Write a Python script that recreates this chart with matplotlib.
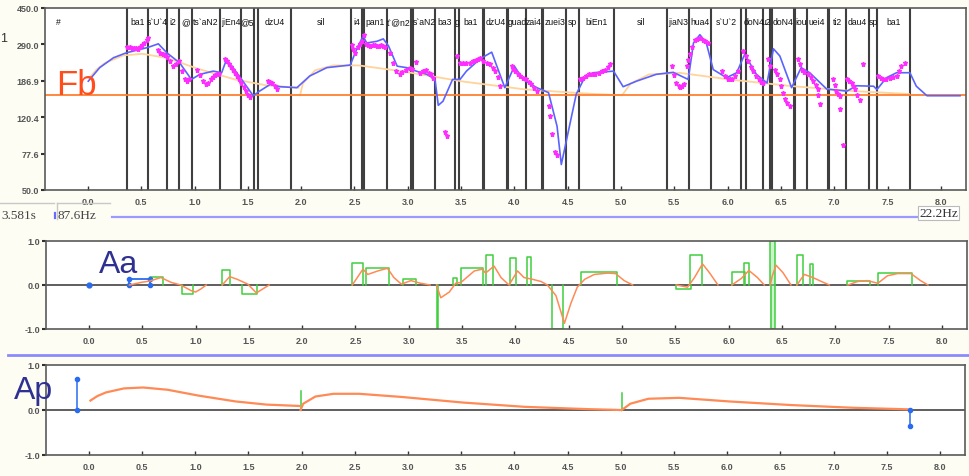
import numpy as np
import matplotlib
matplotlib.use('Agg')
import matplotlib.pyplot as plt
from matplotlib.lines import Line2D
from matplotlib.ticker import NullLocator

plt.rcParams['font.family'] = ['Liberation Sans', 'DejaVu Sans']

# ---- data ----
seg_labels = ["#", "ba1", "s`U`4", "i2", "@", "ts`aN2", "jiEn4", "@5", "dzU4", "sil",
              "i4", "pan1", "t`@n2", "s`aN2", "ba3", "g", "ba1", "dzU4", "guad", "zai4",
              "zuei3", "sp", "biEn1", "sil", "jiaN3", "hua4", "s`U`2", "doN4", "u2", "doN4",
              "iou", "uei4", "ti2", "dau4", "sp", "ba1"]
seg_start = [-0.93, 0.366, 0.566, 0.744, 0.854, 0.973, 1.238, 1.435, 1.598, 1.904,
             2.467, 2.592, 2.802, 3.052, 3.258, 3.44, 3.483, 3.717, 3.943, 4.106,
             4.271, 4.484, 4.609, 4.937, 5.434, 5.638, 5.841, 6.170, 6.335, 6.419,
             6.635, 6.742, 6.951, 7.108, 7.329, 7.398]
seg_end = [0.366, 0.566, 0.744, 0.854, 0.973, 1.238, 1.435, 1.557, 1.904, 2.467,
           2.573, 2.802, 3.027, 3.258, 3.44, 3.483, 3.703, 3.928, 4.106, 4.256,
           4.484, 4.609, 4.937, 5.434, 5.638, 5.841, 6.126, 6.335, 6.398, 6.623,
           6.742, 6.938, 7.108, 7.329, 7.398, 7.711]

fb_hz = 157.0

# model F0 contour (blue)
f0_t = [0.003, 0.11, 0.24, 0.36, 0.49, 0.566, 0.66, 0.74, 0.86, 0.97,
        1.05, 1.175, 1.254, 1.30, 1.36, 1.43, 1.55, 1.61, 1.71, 1.80,
        1.96, 2.08, 2.24, 2.46, 2.52, 2.58, 2.615, 2.71, 2.77, 2.82,
        2.90, 2.99, 3.08, 3.18, 3.255, 3.286, 3.33, 3.42, 3.49, 3.55,
        3.68, 3.787, 3.91, 4.00, 4.08, 4.21, 4.32, 4.40, 4.44, 4.49,
        4.58, 4.65, 4.74, 4.93, 5.02, 5.145, 5.33, 5.49, 5.63, 5.68,
        5.74, 5.80, 5.865, 5.99, 6.085, 6.16, 6.27, 6.37, 6.43, 6.49,
        6.60, 6.69, 6.77, 6.93, 7.12, 7.21, 7.37, 7.40, 7.49, 7.585,
        7.71, 7.77, 7.87, 8.18]
f0_hz = [186, 219, 247, 262, 273, 280, 292, 262, 232, 190,
         202, 210, 206, 242, 219, 194, 156, 165, 179, 174,
         172, 198, 219, 226, 273, 320, 295, 301, 310, 284,
         223, 219, 210, 202, 190, 139, 146, 190, 190, 210,
         244, 264, 172, 223, 190, 172, 162, 108, 68, 92,
         159, 190, 206, 210, 174, 186, 202, 207, 190, 295,
         326, 295, 214, 194, 206, 257, 202, 182, 275, 252,
         172, 219, 206, 169, 165, 176, 175, 168, 194, 206,
         206, 175, 156, 156]

# measured F0 points (magenta)
obs_t = [0.37, 0.39, 0.41, 0.43, 0.45, 0.47, 0.49, 0.51, 0.53, 0.55, 0.56,
         0.66, 0.68, 0.70, 0.72, 0.74, 0.77, 0.80, 0.83, 0.85, 0.88, 0.91, 0.93, 0.95,
         1.02, 1.05, 1.08, 1.11, 1.13, 1.15, 1.17, 1.19, 1.21, 1.23,
         1.285, 1.30, 1.32, 1.34, 1.36, 1.38, 1.40, 1.42, 1.44, 1.46, 1.48, 1.50, 1.52,
         1.69, 1.71, 1.73, 1.75, 1.77,
         2.474, 2.49, 2.505, 2.53, 2.55, 2.567, 2.59,
         2.61, 2.63, 2.65, 2.67, 2.69, 2.71, 2.73, 2.75, 2.77, 2.79,
         2.83, 2.86, 2.89, 2.925, 2.95, 2.98, 3.02, 3.04,
         3.077, 3.115, 3.14, 3.17, 3.20, 3.22, 3.24,
         3.35, 3.37,
         3.46, 3.49, 3.52, 3.55, 3.58, 3.61, 3.64, 3.66, 3.68,
         3.71, 3.74, 3.77, 3.80, 3.82, 3.845, 3.865,
         3.975, 3.99, 4.005, 4.03, 4.05, 4.08, 4.11, 4.135, 4.16, 4.185, 4.21,
         4.32, 4.335, 4.35, 4.38, 4.395,
         4.615, 4.64, 4.67, 4.70, 4.73, 4.76, 4.79, 4.82, 4.85, 4.88, 4.90,
         5.475, 5.50, 5.52, 5.54, 5.555, 5.57, 5.59,
         5.615, 5.63, 5.645, 5.665, 5.69, 5.715, 5.74, 5.765, 5.79, 5.82,
         5.945, 5.975, 6.0, 6.02, 6.04, 6.07, 6.10,
         6.147, 6.17, 6.19, 6.215, 6.24, 6.265, 6.29, 6.31, 6.335,
         6.38, 6.395, 6.44, 6.465, 6.49, 6.505, 6.52, 6.54, 6.555, 6.585,
         6.663, 6.68, 6.695, 6.72, 6.757, 6.78, 6.80, 6.825, 6.85, 6.85, 6.865,
         6.99, 7.005, 7.02, 7.04, 7.055, 7.055, 7.085,
         7.117, 7.14, 7.165, 7.18, 7.195, 7.215, 7.24, 7.27,
         7.41, 7.44, 7.46, 7.49, 7.52, 7.55, 7.585, 7.61, 7.63, 7.66]
obs_hz = [280, 282, 279, 276, 278, 274, 281, 288, 296, 305, 312,
          270, 262, 258, 255, 250, 236, 223, 230, 237, 210, 190, 186, 192,
          214, 200, 186, 179, 183, 190, 196, 201, 202, 204,
          242, 236, 228, 222, 214, 206, 198, 190, 182, 174, 165, 158, 154,
          186, 184, 181, 175, 169,
          289, 275, 262, 280, 290, 301, 326,
          292, 287, 286, 288, 287, 285, 286, 288, 284, 280,
          262, 232, 210, 202, 208, 214, 219, 216,
          234, 206, 210, 214, 206, 202, 194,
          101, 96,
          252, 232, 232, 233, 232, 236, 240, 244, 246,
          237, 233, 228, 218, 210, 196, 176,
          223, 216, 210, 204, 198, 193, 190, 184, 179, 172, 165,
          138, 122, 98, 79, 76,
          190, 194, 198, 202, 202, 203, 206, 210, 214, 222, 228,
          223, 200, 182, 176, 174, 175, 179,
          223, 240, 257, 280, 307, 311, 313, 306, 301, 295,
          210, 198, 192, 190, 191, 198, 210,
          268, 252, 237, 222, 210, 198, 190, 185, 182,
          242, 223, 214, 204, 190, 175, 162, 150, 143, 138,
          242, 228, 214, 208, 202, 195, 186, 178, 169, 157, 142,
          190, 178, 165, 160, 156, 133, 86,
          190, 186, 182, 176, 169, 158, 149, 228,
          198, 193, 190, 191, 194, 196, 198, 210, 223, 232]

# phrase component (Ap curve), pieces split by nan
ap_t = [0.015, 0.08, 0.16, 0.33, 0.51, 0.74, 1.03, 1.38, 1.67, 1.975, np.nan,
        1.99, 2.015, 2.13, 2.30, 2.54, 2.94, 3.52, 4.10, 4.68, 5.00, np.nan,
        5.01, 5.09, 5.26, 5.55, 6.02, 6.60, 7.18, 7.70]
ap_v = [0.21, 0.31, 0.39, 0.48, 0.50, 0.45, 0.32, 0.19, 0.12, 0.09, np.nan,
        0.0, 0.14, 0.30, 0.36, 0.36, 0.29, 0.165, 0.07, 0.02, 0.0, np.nan,
        0.0, 0.14, 0.25, 0.27, 0.19, 0.11, 0.05, 0.015]
phrase_green_t = [1.99, 5.01]
phrase_green_a = [0.43, 0.37]
phrase_blue_t = [-0.11, 7.72]
phrase_blue_a = [0.70, -0.36]

# accent component (Aa curve), pieces split by nan
aa_t = [0.38, 0.49, 0.57, 0.675, 0.77, 0.86, 0.96, 1.0, 1.05, 1.10, np.nan,
        1.25, 1.32, 1.39, 1.49, 1.57, 1.63, 1.69, np.nan,
        2.47, 2.57, 2.615, 2.71, 2.80, 2.86, 2.93, 3.02, 3.11, 3.20, np.nan,
        3.26, 3.30, 3.38, 3.44, 3.49, 3.615, 3.69, 3.72, 3.80, 3.865, 3.94, 4.02,
        4.08, 4.16, 4.24, 4.30, 4.38, 4.46, 4.52, 4.58, 4.65, 4.74, 4.865, 4.94,
        5.02, 5.10, np.nan,
        5.51, 5.615, 5.68, 5.755, 5.82, 5.90, np.nan,
        6.03, 6.12, 6.19, 6.27, 6.335, np.nan,
        6.39, 6.41, 6.445, 6.51, 6.585, np.nan,
        6.64, 6.71, 6.79, 6.87, 6.945, np.nan,
        7.12, 7.21, 7.30, 7.40, 7.49, 7.585, 7.71, 7.80, 7.87]
aa_v = [0, 0.06, 0.09, 0.17, 0.06, 0, -0.13, -0.16, -0.09, 0, np.nan,
        0, 0.19, 0.13, 0.02, -0.18, -0.09, 0, np.nan,
        0, 0.36, 0.24, 0.32, 0.38, 0.17, 0.02, 0.10, 0.04, 0, np.nan,
        0, -0.29, -0.16, 0.04, 0.06, 0.32, 0.36, 0.27, 0.43, 0.17, 0, 0.32,
        0.17, 0.13, 0.08, 0, -0.24, -0.87, -0.42, -0.05, 0.13, 0.24, 0.27, 0.26,
        0.10, 0, np.nan,
        0, -0.05, 0.17, 0.48, 0.28, 0, np.nan,
        0, 0.15, 0.33, 0.17, 0, np.nan,
        0, 0.21, 0.45, 0.28, 0, np.nan,
        0, 0.24, 0.17, 0.08, 0, np.nan,
        0, 0.08, 0.10, 0.04, 0.21, 0.26, 0.26, 0.10, 0]

# accent commands: onset, offset, amplitude
acc_on = [0.57, 0.87, 1.25, 1.44, 2.47, 2.60, 2.95, 3.26, 3.41, 3.49, 3.72, 3.95, 4.11,
          4.34, 4.62, 5.51, 5.64, 6.03, 6.14, 6.39, 6.40, 6.64, 6.76, 7.11, 7.40]
acc_off = [0.69, 0.98, 1.32, 1.58, 2.57, 2.81, 3.07, 3.275, 3.45, 3.70, 3.79, 4.005, 4.15,
           4.45, 4.95, 5.65, 5.75, 6.15, 6.19, 6.435, 6.435, 6.695, 6.79, 7.33, 7.72]
acc_amp = [0.19, -0.20, 0.34, -0.20, 0.49, 0.39, 0.13, -1.0, 0.16, 0.38, 0.69, 0.62, 0.64,
           -1.0, 0.30, -0.10, 0.69, 0.30, 0.49, 1.0, -1.0, 0.69, 0.48, 0.10, 0.27]
sel_on, sel_off, sel_amp = 0.38, 0.57, 0.13

xticks = np.arange(0, 8.01, 0.5)
f0_ticks = [50.0, 77.6, 120.4, 186.9, 290.0, 450.0]
unit_ticks = [-1.0, 0.0, 1.0]

# ---- figure ----
W, H = 969, 477
fig = plt.figure(figsize=(W / 100, H / 100), dpi=100, facecolor='#fdfdf4')


def add_ax(l, t, r, b):
    return fig.add_axes([l / W, 1 - b / H, (r - l) / W, (b - t) / H])


def fx(x):
    return x / W


def fy(y):
    return 1 - y / H


def style(ax):
    ax.set_facecolor('white')
    ax.set_xlim(-0.403, 8.236)
    for s in ax.spines.values():
        s.set_color('#5a5a5a')
        s.set_linewidth(1.2)
    ax.set_xticks(xticks)
    ax.set_xticklabels([f'{v:.1f}' for v in xticks])
    ax.tick_params(axis='x', direction='in', length=3, width=1, color='#333333',
                   labelsize=6.5, labelcolor='#555555', pad=5)
    ax.tick_params(axis='y', direction='out', length=3, width=1.5, color='#333333',
                   labelsize=6.5, labelcolor='#555555', pad=1)
    for lab in ax.get_xticklabels() + ax.get_yticklabels():
        lab.set_fontweight('bold')


ax_f0 = add_ax(45, 9, 966, 191)
ax_aa = add_ax(46, 242, 967, 330)
ax_ap = add_ax(46, 366, 965, 456)

# top: F0
ax_f0.set_yscale('log')
ax_f0.set_ylim(50, 450)
ax_f0.set_yticks(f0_ticks)
ax_f0.set_yticklabels([f'{v:.1f}' for v in f0_ticks])
ax_f0.yaxis.set_minor_locator(NullLocator())
style(ax_f0)

bounds = sorted(set(seg_start[1:]) | set(seg_end))
for b in bounds:
    ax_f0.axvline(b, color='#3f3f3f', lw=1.5, zorder=1.5)
for lab, s, e in zip(seg_labels, seg_start, seg_end):
    ax_f0.text((s + e) / 2, 0.925, lab, transform=ax_f0.get_xaxis_transform(),
               ha='center', va='center', fontsize=6.2, color='#111111', clip_on=True)

ap_t_arr = np.array(ap_t)
ap_v_arr = np.array(ap_v)
ax_f0.plot(ap_t_arr, fb_hz * np.exp(ap_v_arr), color='#ffd39a', lw=1.3, zorder=2)
ax_f0.axhline(fb_hz, color='#ff8030', lw=1.3, zorder=2)
ax_f0.plot(f0_t, f0_hz, color='#5b63ff', lw=1.2, zorder=3)
ax_f0.plot(obs_t, obs_hz, ls='none', marker='*', ms=3.6, color='#ff2cff',
           mec='#ff2cff', zorder=4)

# middle: Aa
ax_aa.set_ylim(-1.0, 1.0)
ax_aa.set_yticks(unit_ticks)
ax_aa.set_yticklabels(['-1.0', '0.0', '1.0'])
style(ax_aa)
ax_aa.axhline(0, color='#333333', lw=1.1, zorder=1)
for on, off, a in zip(acc_on, acc_off, acc_amp):
    ax_aa.plot([on, on, off, off], [0, a, a, 0], color='#3fcf3f', lw=1.1, zorder=2)
    if a >= 1.0:
        ax_aa.fill_between([on, off], [-1, -1], [a, a], color='#9be59b', alpha=0.5, lw=0)
ax_aa.plot([sel_on, sel_on, sel_off, sel_off], [0, sel_amp, sel_amp, 0],
           color='#2a6cf0', lw=1.3, marker='o', ms=3, zorder=3)
ax_aa.plot([0.0], [0.0], 'o', color='#2a6cf0', ms=3.5, zorder=3)
ax_aa.plot(aa_t, aa_v, color='#ff8a55', lw=1.1, zorder=4)

# bottom: Ap
ax_ap.set_ylim(-1.0, 1.0)
ax_ap.set_yticks(unit_ticks)
ax_ap.set_yticklabels(['-1.0', '0.0', '1.0'])
style(ax_ap)
ax_ap.axhline(0, color='#333333', lw=1.1, zorder=1)
ax_ap.plot(ap_t, ap_v, color='#ff8a55', lw=1.6, zorder=3)
for t, a in zip(phrase_green_t, phrase_green_a):
    ax_ap.plot([t, t], [0, a], color='#3fcf3f', lw=1.1, zorder=2)
for t, a in zip(phrase_blue_t, phrase_blue_a):
    ax_ap.plot([t, t], [0, a], color='#2a6cf0', lw=1.1, marker='o', ms=3, zorder=4)

# big labels
fig.text(fx(56), fy(95), 'Fb', fontsize=25, color='#ff4d1c', va='baseline')
fig.text(fx(99), fy(273), 'Aa', fontsize=23, color='#2e3192', va='baseline')
fig.text(fx(14), fy(399), 'Ap', fontsize=23, color='#2e3192', va='baseline')
fig.text(fx(0), fy(42), '1', fontsize=9, color='#333333', va='baseline')

# status strip below the F0 panel
fig.text(fx(1), fy(219), '3.581s', fontsize=9.5, family='Liberation Serif', color='#444444',
         va='baseline')
fig.text(fx(57), fy(219), '87.6Hz', fontsize=9.5, family='Liberation Serif', color='#444444',
         va='baseline')
fig.text(fx(919), fy(217), '22.2Hz', fontsize=9.5, family='Liberation Serif', color='#333333',
         va='baseline', bbox=dict(boxstyle='square,pad=0.1', fc='white', ec='#bbbbbb', lw=0.8))
fig.add_artist(Line2D([fx(0), fx(54)], [fy(204), fy(204)], color='#c8c8c8', lw=1))
fig.add_artist(Line2D([fx(57), fx(110)], [fy(204), fy(204)], color='#c8c8c8', lw=1))
fig.add_artist(Line2D([fx(57), fx(57)], [fy(204), fy(220)], color='#c8c8c8', lw=1))
fig.add_artist(Line2D([fx(112), fx(918)], [fy(218), fy(218)], color='#9a9aff', lw=1.6))
fig.add_artist(Line2D([fx(55), fx(55)], [fy(214), fy(219)], color='#6a6aff', lw=1.6))
fig.add_artist(Line2D([fx(8), fx(969)], [fy(356), fy(356)], color='#8a8aff', lw=2))

fig.savefig('out.png', dpi=100, facecolor=fig.get_facecolor())
